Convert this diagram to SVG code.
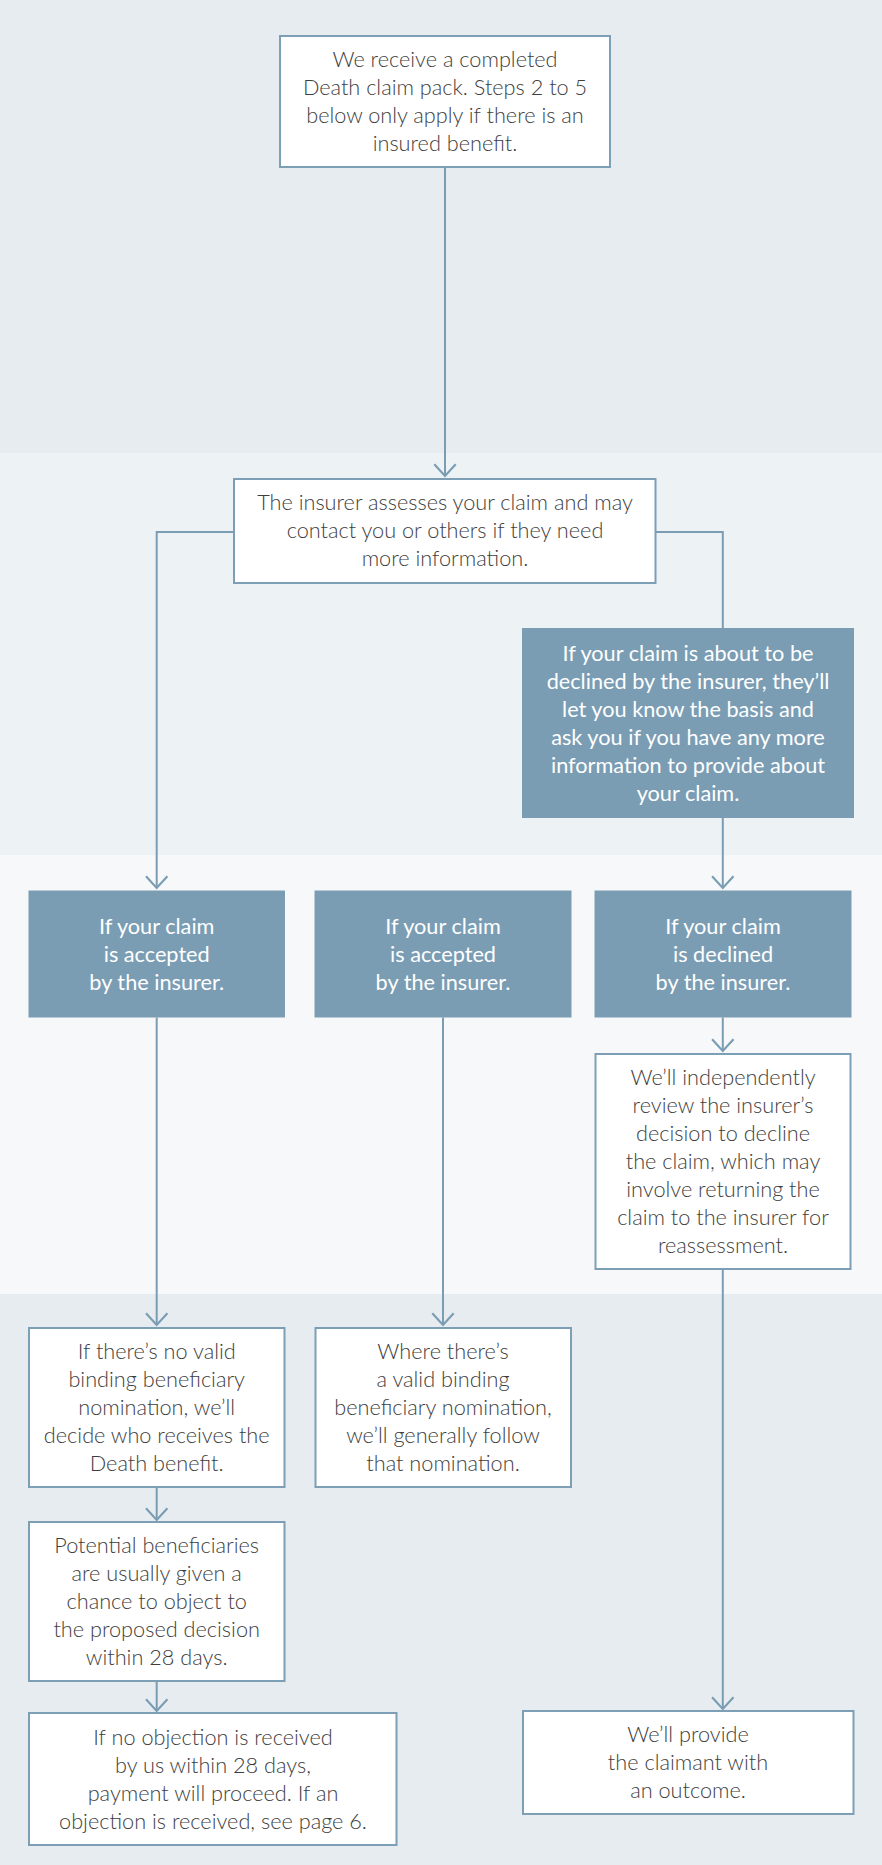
<svg xmlns="http://www.w3.org/2000/svg" width="882" height="1865" viewBox="0 0 882 1865">
<defs>
<style>
.box{fill:#ffffff;stroke:#7c9fb6;stroke-width:2}
.dark{fill:#7a9db4;stroke:none}
.t{font-family:Lato,"Open Sans","Liberation Sans",sans-serif;font-weight:300;font-size:21.7px;fill:#3e3e3e;text-anchor:middle}
.w{font-family:Lato,"Open Sans","Liberation Sans",sans-serif;font-weight:400;font-size:21.7px;fill:#ffffff;text-anchor:middle}
.c{fill:none;stroke:#7a9db4;stroke-width:2}
</style>
<marker id="ah" markerUnits="userSpaceOnUse" markerWidth="30" markerHeight="30" viewBox="-14 -14 28 28" refX="0" refY="0" orient="auto">
<path d="M-11,-10 L0,0 L-11,10" fill="none" stroke="#7a9db4" stroke-width="2"/>
</marker>
</defs>
<g id="bands">
<rect x="0" y="0" width="882" height="453" fill="#e6ecf0"/>
<rect x="0" y="453" width="882" height="402" fill="#edf2f5"/>
<rect x="0" y="855" width="882" height="439" fill="#f6f8fa"/>
<rect x="0" y="1294" width="882" height="571" fill="#e6ecf0"/>
</g>
<g id="connectors">
<path class="c" d="M445,167 V476" marker-end="url(#ah)"/>
<path class="c" d="M234,532 H156.7 V888" marker-end="url(#ah)"/>
<path class="c" d="M655.5,532 H722.8 V628"/>
<path class="c" d="M722.8,818 V888" marker-end="url(#ah)"/>
<path class="c" d="M156.7,1017.5 V1325" marker-end="url(#ah)"/>
<path class="c" d="M443,1017.5 V1325" marker-end="url(#ah)"/>
<path class="c" d="M722.8,1017.5 V1051" marker-end="url(#ah)"/>
<path class="c" d="M722.8,1269 V1709" marker-end="url(#ah)"/>
<path class="c" d="M156.7,1487 V1520" marker-end="url(#ah)"/>
<path class="c" d="M156.7,1681 V1711" marker-end="url(#ah)"/>
</g>
<g id="n1">
<rect class="box" x="280" y="36" width="330" height="131"/>
<text class="t" x="445" y="67">We receive a completed</text>
<text class="t" x="445" y="95">Death claim pack. Steps 2 to 5</text>
<text class="t" x="445" y="123">below only apply if there is an</text>
<text class="t" x="445" y="151">insured benefit.</text>
</g>
<g id="n2">
<rect class="box" x="234" y="479" width="421.5" height="104"/>
<text class="t" x="445" y="510">The insurer assesses your claim and may</text>
<text class="t" x="445" y="538">contact you or others if they need</text>
<text class="t" x="445" y="566">more information.</text>
</g>
<g id="n3">
<rect class="dark" x="522" y="628" width="332" height="190"/>
<text class="w" x="688" y="661">If your claim is about to be</text>
<text class="w" x="688" y="689">declined by the insurer, they’ll</text>
<text class="w" x="688" y="717">let you know the basis and</text>
<text class="w" x="688" y="745">ask you if you have any more</text>
<text class="w" x="688" y="773">information to provide about</text>
<text class="w" x="688" y="801">your claim.</text>
</g>
<g id="n4">
<rect class="dark" x="28.5" y="890.5" width="256.5" height="127"/>
<text class="w" x="156.7" y="934">If your claim</text>
<text class="w" x="156.7" y="962">is accepted</text>
<text class="w" x="156.7" y="990">by the insurer.</text>
</g>
<g id="n5">
<rect class="dark" x="314.5" y="890.5" width="257" height="127"/>
<text class="w" x="443" y="934">If your claim</text>
<text class="w" x="443" y="962">is accepted</text>
<text class="w" x="443" y="990">by the insurer.</text>
</g>
<g id="n6">
<rect class="dark" x="594.5" y="890.5" width="257" height="127"/>
<text class="w" x="723" y="934">If your claim</text>
<text class="w" x="723" y="962">is declined</text>
<text class="w" x="723" y="990">by the insurer.</text>
</g>
<g id="n7">
<rect class="box" x="595.5" y="1054" width="255" height="215"/>
<text class="t" x="723" y="1085">We’ll independently</text>
<text class="t" x="723" y="1113">review the insurer’s</text>
<text class="t" x="723" y="1141">decision to decline</text>
<text class="t" x="723" y="1169">the claim, which may</text>
<text class="t" x="723" y="1197">involve returning the</text>
<text class="t" x="723" y="1225">claim to the insurer for</text>
<text class="t" x="723" y="1253">reassessment.</text>
</g>
<g id="n8">
<rect class="box" x="29" y="1328" width="255.5" height="159"/>
<text class="t" x="156.7" y="1359">If there’s no valid</text>
<text class="t" x="156.7" y="1387">binding beneficiary</text>
<text class="t" x="156.7" y="1415">nomination, we’ll</text>
<text class="t" x="156.7" y="1443">decide who receives the</text>
<text class="t" x="156.7" y="1471">Death benefit.</text>
</g>
<g id="n9">
<rect class="box" x="315.5" y="1328" width="255.5" height="159"/>
<text class="t" x="443" y="1359">Where there’s</text>
<text class="t" x="443" y="1387">a valid binding</text>
<text class="t" x="443" y="1415">beneficiary nomination,</text>
<text class="t" x="443" y="1443">we’ll generally follow</text>
<text class="t" x="443" y="1471">that nomination.</text>
</g>
<g id="n10">
<rect class="box" x="29" y="1522" width="255.5" height="159"/>
<text class="t" x="156.7" y="1553">Potential beneficiaries</text>
<text class="t" x="156.7" y="1581">are usually given a</text>
<text class="t" x="156.7" y="1609">chance to object to</text>
<text class="t" x="156.7" y="1637">the proposed decision</text>
<text class="t" x="156.7" y="1665">within 28 days.</text>
</g>
<g id="n11">
<rect class="box" x="29" y="1713" width="367.5" height="132"/>
<text class="t" x="213" y="1745">If no objection is received</text>
<text class="t" x="213" y="1773">by us within 28 days,</text>
<text class="t" x="213" y="1801">payment will proceed. If an</text>
<text class="t" x="213" y="1829">objection is received, see page 6.</text>
</g>
<g id="n12">
<rect class="box" x="523" y="1711" width="330.5" height="103"/>
<text class="t" x="688" y="1742">We’ll provide</text>
<text class="t" x="688" y="1770">the claimant with</text>
<text class="t" x="688" y="1798">an outcome.</text>
</g>
</svg>
